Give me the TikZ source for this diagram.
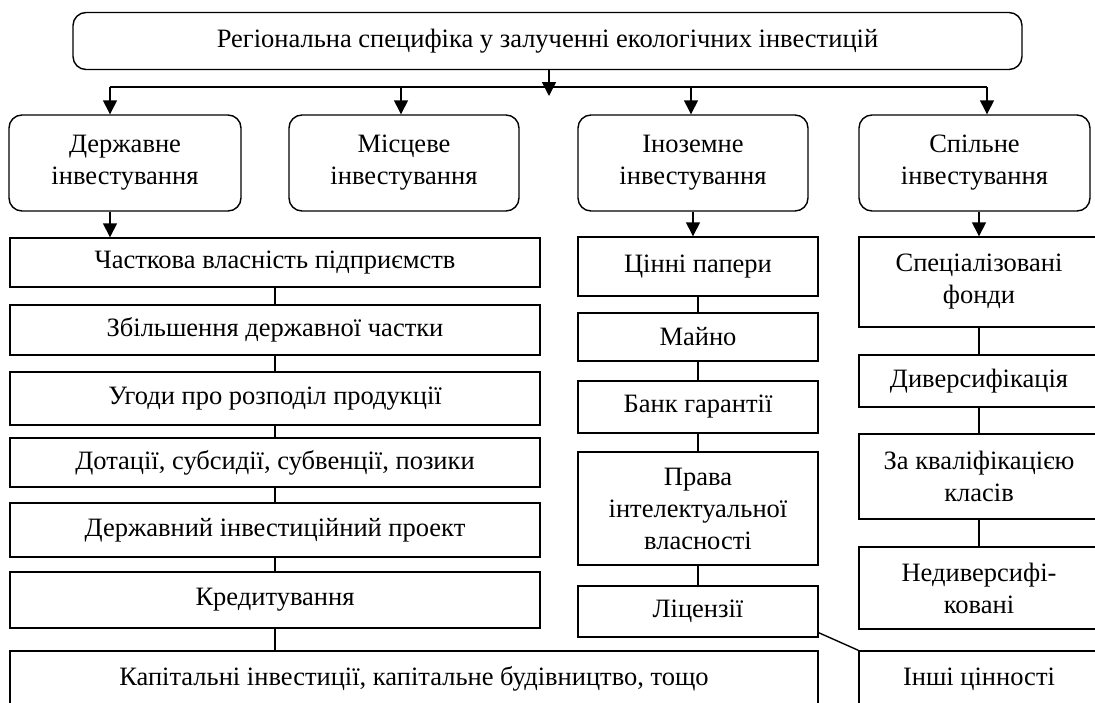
\documentclass[tikz,border=0pt]{standalone}
\usepackage{fontspec}
\setmainfont{Liberation Serif}
\usetikzlibrary{arrows.meta}
\tikzset{
  bx/.style={draw, line width=1.4pt, inner sep=0pt, align=center,
    font=\fontsize{26.5}{32}\selectfont},
  rbx/.style={bx, rounded corners=13pt},
  arr/.style={line width=1.4pt, -{Triangle[width=14pt,length=14pt]}},
  ln/.style={line width=1.4pt}
}
\begin{document}
\begin{tikzpicture}[x=1pt,y=-1pt]
\path[use as bounding box, clip] (0,0) rectangle (1095,702);
% top
\node[rbx, minimum width=949pt, minimum height=57pt] (top) at (547.5,41)
  {Регіональна специфіка у залученні екологічних інвестицій};
% level 2
\node[rbx, minimum width=232pt, minimum height=96pt] (D) at (125,163) {Державне\\інвестування};
\node[rbx, minimum width=230pt, minimum height=96pt] (Mi) at (404,163) {Місцеве\\інвестування};
\node[rbx, minimum width=230pt, minimum height=96pt] (I) at (693,163) {Іноземне\\інвестування};
\node[rbx, minimum width=231pt, minimum height=96pt] (S) at (974.5,163) {Спільне\\інвестування};
% left column
\node[bx, minimum width=530pt, minimum height=49pt] (L1) at (275,262.5) {Часткова власність підприємств};
\node[bx, minimum width=530pt, minimum height=50pt] (L2) at (275,330) {Збільшення державної частки};
\node[bx, minimum width=530pt, minimum height=53pt] (L3) at (275,398.5) {Угоди про розподіл продукції};
\node[bx, minimum width=530pt, minimum height=49pt] (L4) at (275,462.5) {Дотації, субсидії, субвенції, позики};
\node[bx, minimum width=530pt, minimum height=54pt] (L5) at (275,530) {Державний інвестиційний проект};
\node[bx, minimum width=530pt, minimum height=56pt] (L6) at (275,600) {Кредитування};
\node[bx, minimum width=808pt, minimum height=56pt] (K) at (414,679) {Капітальні інвестиції, капітальне будівництво, тощо};
% middle column
\node[bx, minimum width=240pt, minimum height=59pt] (M1) at (698,266.5) {Цінні папери};
\node[bx, minimum width=240pt, minimum height=48pt] (M2) at (698,337) {Майно};
\node[bx, minimum width=240pt, minimum height=52pt] (M3) at (698,407) {Банк гарантії};
\node[bx, minimum width=240pt, minimum height=113pt] (M4) at (698,508.5) {Права\\інтелектуальної\\власності};
\node[bx, minimum width=240pt, minimum height=51pt] (M5) at (698,611.5) {Ліцензії};
% right column
\node[bx, minimum width=240pt, minimum height=90pt] (R1) at (979,282) {Спеціалізовані\\фонди};
\node[bx, minimum width=240pt, minimum height=52pt] (R2) at (979,381) {Диверсифікація};
\node[bx, minimum width=240pt, minimum height=85pt] (R3) at (979,476.5) {За кваліфікацією\\класів};
\node[bx, minimum width=240pt, minimum height=82pt] (R4) at (979,588) {Недиверсифі-\\ковані};
\node[bx, minimum width=240pt, minimum height=56pt] (R5) at (979,679) {Інші цінності};
% distribution bar
\coordinate (j1) at (110,87);
\coordinate (j2) at (401,87);
\coordinate (j3) at (691,87);
\coordinate (j4) at (987,87);
\coordinate (tip) at (549,96);
\draw[ln] (j1) -- (j4);
\draw[arr] (top.south -| tip) -- (tip);
\draw[arr] (j1) -- (j1 |- D.north);
\draw[arr] (j2) -- (j2 |- Mi.north);
\draw[arr] (j3) -- (j3 |- I.north);
\draw[arr] (j4) -- (j4 |- S.north);
% arrows from level 2
\draw[arr] (D.south -| j1) -- (L1.north -| j1);
\draw[arr] (I.south) -- (I.south |- M1.north);
\draw[arr] (S.south -| R1.north) -- (R1.north);
% column connectors
\draw[ln] (L1.south) -- (L2.north);
\draw[ln] (L2.south) -- (L3.north);
\draw[ln] (L3.south) -- (L4.north);
\draw[ln] (L4.south) -- (L5.north);
\draw[ln] (L5.south) -- (L6.north);
\draw[ln] (L6.south) -- (L6.south |- K.north);
\draw[ln] (M1.south) -- (M2.north);
\draw[ln] (M2.south) -- (M3.north);
\draw[ln] (M3.south) -- (M4.north);
\draw[ln] (M4.south) -- (M5.north);
\draw[ln] (R1.south) -- (R2.north);
\draw[ln] (R2.south) -- (R3.north);
\draw[ln] (R3.south) -- (R4.north);
\draw[ln] ([yshift=5pt]M5.south east) -- (R5.north west);
\end{tikzpicture}
\end{document}
